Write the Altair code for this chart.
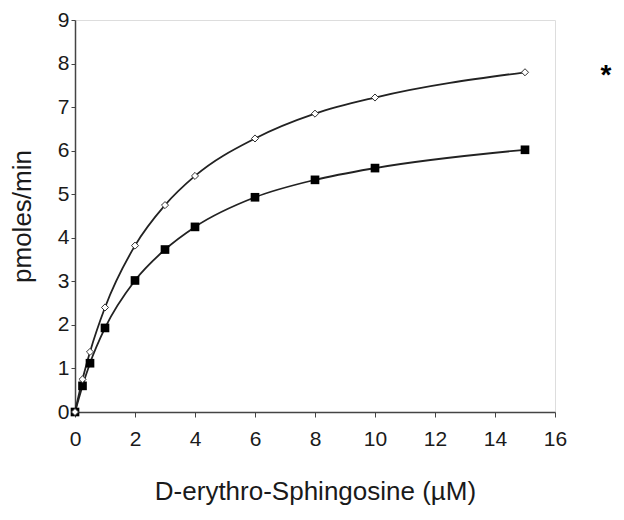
import altair as alt
import pandas as pd

conc = [0, 0.25, 0.5, 1, 2, 3, 4, 6, 8, 10, 15]
open_vals = [0, 0.75, 1.38, 2.4, 3.82, 4.75, 5.42, 6.28, 6.85, 7.22, 7.8]
filled_vals = [0, 0.6, 1.12, 1.93, 3.02, 3.73, 4.25, 4.93, 5.33, 5.6, 6.02]
x_ticks = [0, 2, 4, 6, 8, 10, 12, 14, 16]
y_ticks = [0, 1, 2, 3, 4, 5, 6, 7, 8, 9]
star_label = ["*"]
star_pos = [17.7, 7.75]

df_open = pd.DataFrame({"x": conc, "y": open_vals})
df_filled = pd.DataFrame({"x": conc, "y": filled_vals})
df_star = pd.DataFrame({"x": [star_pos[0]], "y": [star_pos[1]], "t": star_label})

FONT = "Liberation Sans"

xs = alt.Scale(domain=[0, 16], nice=False)
ys = alt.Scale(domain=[0, 9], nice=False)

xenc = alt.X("x:Q", scale=xs, axis=alt.Axis(
    values=x_ticks, title="D-erythro-Sphingosine (\u00b5M)", grid=False,
    labelFontSize=21, titleFontSize=26, titleFontWeight="normal",
    labelFont=FONT, titleFont=FONT, labelColor="#1a1a1a", titleColor="#1a1a1a",
    domainColor="#444", tickColor="#444", tickSize=5, labelPadding=11,
    labelFlush=False, labelOverlap=False,
    titlePadding=29, domainWidth=1.5))
yenc = alt.Y("y:Q", scale=ys, axis=alt.Axis(
    values=y_ticks, title="pmoles/min", grid=False,
    labelFontSize=21, titleFontSize=26, titleFontWeight="normal",
    labelFont=FONT, titleFont=FONT, labelColor="#1a1a1a", titleColor="#1a1a1a",
    domainColor="#444", tickColor="#444", tickSize=4, labelPadding=2,
    labelFlush=False, labelOverlap=False,
    titlePadding=22, domainWidth=1.5))

line_open = alt.Chart(df_open).mark_line(
    color="#222", strokeWidth=1.8, interpolate="monotone").encode(x=xenc, y=yenc)
line_filled = alt.Chart(df_filled).mark_line(
    color="#222", strokeWidth=1.8, interpolate="monotone").encode(x=xenc, y=yenc)
pts_filled = alt.Chart(df_filled).mark_point(
    shape="square", filled=True, color="black", size=75, opacity=1).encode(x=xenc, y=yenc)
pts_open = alt.Chart(df_open).mark_point(
    shape="diamond", filled=True, fill="white", stroke="#333", strokeWidth=1,
    size=50, opacity=1).encode(x=xenc, y=yenc)
star = alt.Chart(df_star).mark_text(
    fontSize=28, fontWeight="bold", font=FONT, color="black", baseline="middle",
    align="center", dy=2).encode(x=xenc, y=yenc, text="t:N")

chart = alt.layer(line_open, line_filled, pts_filled, pts_open, star).properties(
    width=480, height=392,
    autosize=alt.AutoSizeParams(type="none"),
    padding={"left": 67, "top": 12, "right": 61, "bottom": 100},
).configure_view(stroke=None).configure(background="white")

chart.save("out.html", embed_options={"renderer": "svg", "actions": False})
